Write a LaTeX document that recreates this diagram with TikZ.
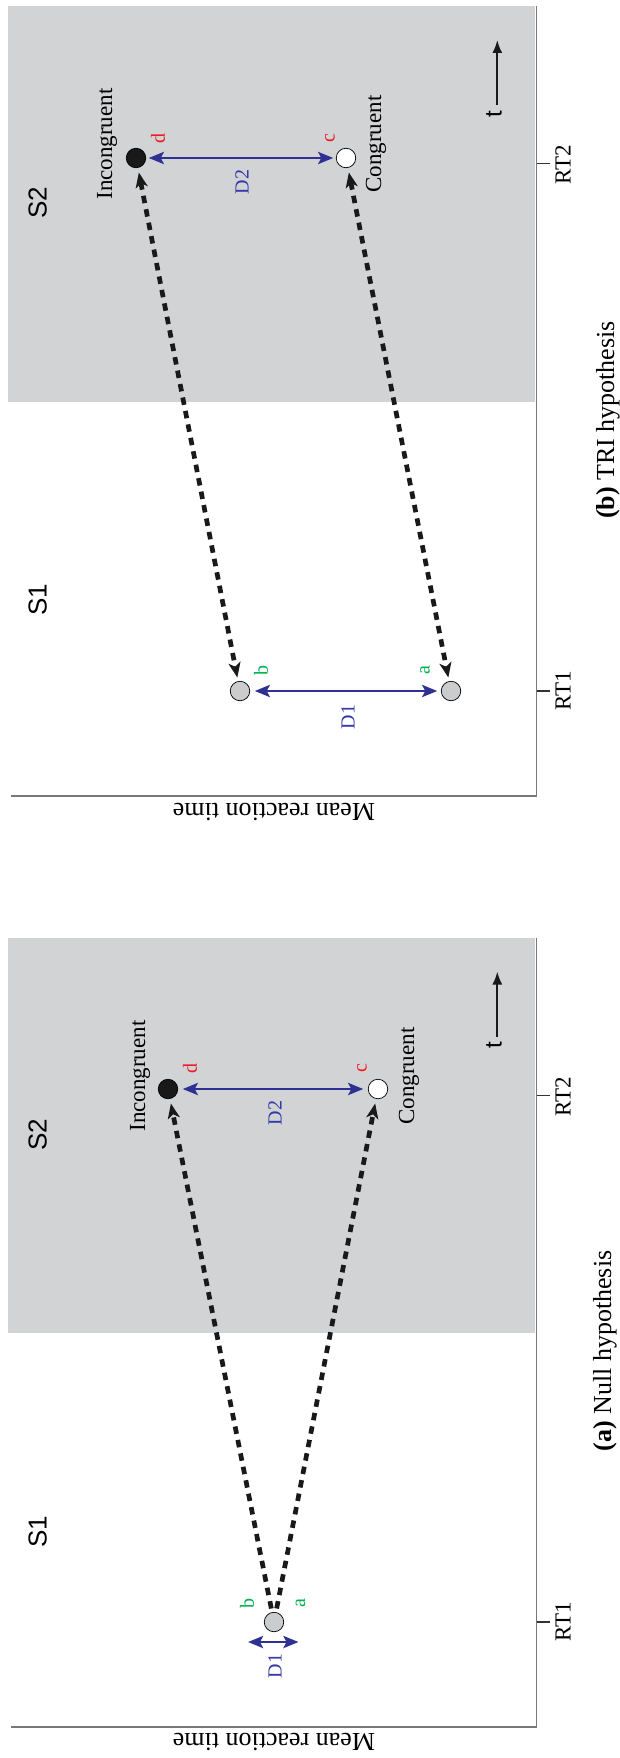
\documentclass[tikz,border=0pt]{standalone}
\usepackage{fontspec}
\setmainfont{Liberation Serif}
\newfontfamily\sansfam{Liberation Sans}
\usetikzlibrary{arrows.meta}
\definecolor{panelgray}{HTML}{D1D3D4}
\definecolor{axisgray}{HTML}{77787B}
\definecolor{darkblue}{HTML}{2E3192}
\definecolor{lblblue}{HTML}{3438A8}
\definecolor{lblred}{HTML}{ED1C24}
\definecolor{lblgreen}{HTML}{00B050}
\definecolor{dotgray}{HTML}{CBCCCE}
\newcommand\pal[1]{\fontsize{#1}{#1}\selectfont}
\newcommand\sansf[1]{\sansfam\fontsize{#1}{#1}\selectfont}
\begin{document}
\begin{tikzpicture}[x=1pt,y=-1pt,
  every node/.style={inner sep=0pt,outer sep=0pt},
  rtdot/.style={circle,draw=black,line width=0.7pt,minimum size=19.5pt,inner sep=0pt},
  darkdot/.style={rtdot,fill=black!90},
  whitedot/.style={rtdot,fill=white},
  graydot/.style={rtdot,fill=dotgray},
  bluearrow/.style={draw=darkblue,line width=2.8pt,{Stealth[length=15pt,width=12pt,inset=3pt]}-{Stealth[length=15pt,width=12pt,inset=3pt]}},
  dashline/.style={draw=black!90,line width=4.7pt,dash pattern=on 7.5pt off 6.2pt},
  bothtips/.style={{Stealth[length=15pt,width=12pt,inset=4pt]}-{Stealth[length=15pt,width=12pt,inset=4pt]}},
  onetip/.style={-{Stealth[length=15pt,width=12pt,inset=4pt]}},
  axisline/.style={draw=axisgray,line width=1.8pt},
  tickline/.style={draw=black!80,line width=1.2pt},
  tarrow/.style={draw=black!90,line width=2pt,-{Latex[length=13pt,width=10pt]}},
  vtext/.style={rotate=90},
  stxt/.style={vtext,font=\sansf{26}},
  ttxt/.style={vtext,font=\sansf{24}},
  cond/.style={vtext,font=\pal{23}},
  redl/.style={vtext,font=\pal{20},text=lblred},
  greenl/.style={vtext,font=\pal{20},text=lblgreen},
  bluel/.style={vtext,font=\pal{20},text=lblblue},
  rtl/.style={vtext,font=\pal{23}},
  capt/.style={vtext,font=\pal{26}},
  ylab/.style={rotate=180,font=\pal{26}}
]
\useasboundingbox (0,0) rectangle (620,1758);

% ================= panel (b): TRI hypothesis (top) =================
\fill[panelgray] (7.5,6) rectangle (535,402);
\coordinate (bTop) at (536.5,6);
\coordinate (bO) at (536.5,796);
\coordinate (bLeft) at (11,796);
\draw[axisline] (bTop) -- (bO) -- (bLeft);
\coordinate (bT2a) at (536.5,163.5); \coordinate (bT2b) at (550,163.5);
\coordinate (bT1a) at (536.5,691);   \coordinate (bT1b) at (550,691);
\draw[tickline] (bT2a) -- (bT2b);
\draw[tickline] (bT1a) -- (bT1b);

\node[stxt] (bS2) at (37.6,203) {S2};
\node[stxt] (bS1) at (37.6,600) {S1};

\node[darkdot]  (bd) at (136,158) {};
\node[whitedot] (bc) at (346,158) {};
\node[graydot]  (bb) at (240,691) {};
\node[graydot]  (ba) at (451,691) {};

\draw[bluearrow,shorten <=3pt,shorten >=3pt] (bd) -- (bc);
\draw[bluearrow,shorten <=5pt,shorten >=4pt] (bb) -- (ba);
\draw[dashline,bothtips,shorten <=5pt,shorten >=4pt] (bd) -- (bb);
\draw[dashline,bothtips,shorten <=5pt,shorten >=4pt] (bc) -- (ba);

\node[cond] (bInc) at (107,144) {Incongruent};
\node[cond] (bCon) at (376,144) {Congruent};
\node[redl] (bdl) at (158,138) {d};
\node[redl] (bcl) at (330,138) {c};
\node[bluel] (bD2) at (242,182) {D2};
\node[greenl] (bbl) at (261,670) {b};
\node[greenl] (bal) at (425,670) {a};
\node[bluel] (bD1) at (348,717) {D1};

\coordinate (btS) at (497.3,105); \coordinate (btE) at (497.3,40);
\draw[tarrow] (btS) -- (btE);
\node[ttxt] (bt) at (494,114) {t};

\node[rtl] (bRT2) at (563,165) {RT2};
\node[rtl] (bRT1) at (563,691) {RT1};
\node[ylab] (bY) at (274,812) {Mean reaction time};
\node[capt] (bCap) at (608,420) {\textbf{(b)} TRI hypothesis};

% ================= panel (a): Null hypothesis (bottom) =================
\fill[panelgray] (7.5,937.5) rectangle (535,1333);
\coordinate (aTop) at (536.5,937.5);
\coordinate (aO) at (536.5,1727);
\coordinate (aLeft) at (11,1727);
\draw[axisline] (aTop) -- (aO) -- (aLeft);
\coordinate (aT2a) at (536.5,1095.5); \coordinate (aT2b) at (550,1095.5);
\coordinate (aT1a) at (536.5,1622);   \coordinate (aT1b) at (550,1622);
\draw[tickline] (aT2a) -- (aT2b);
\draw[tickline] (aT1a) -- (aT1b);

\node[stxt] (aS2) at (37.6,1134.5) {S2};
\node[stxt] (aS1) at (37.6,1531.5) {S1};

\node[darkdot]  (ad) at (168,1089) {};
\node[whitedot] (ac) at (378,1089) {};
\node[graydot]  (ag) at (274,1622) {};

\draw[bluearrow,shorten <=5pt,shorten >=5pt] (ad) -- (ac);
\coordinate (aD1l) at (248,1642); \coordinate (aD1r) at (298.5,1642);
\draw[bluearrow] (aD1l) -- (aD1r);
\draw[dashline,onetip,shorten <=4pt,shorten >=5pt] (ag) -- (ad);
\draw[dashline,onetip,shorten <=4pt,shorten >=5pt] (ag) -- (ac);

\node[cond] (aInc) at (140,1076) {Incongruent};
\node[cond] (aCon) at (409,1076) {Congruent};
\node[redl] (adl) at (190,1068) {d};
\node[redl] (acl) at (362,1068) {c};
\node[bluel] (aD2) at (275,1113) {D2};
\node[greenl] (abl) at (247,1603) {b};
\node[greenl] (aal) at (300.5,1603) {a};
\node[bluel] (aD1) at (275,1666) {D1};

\coordinate (atS) at (497.3,1036.5); \coordinate (atE) at (497.3,971.5);
\draw[tarrow] (atS) -- (atE);
\node[ttxt] (at) at (494,1045.5) {t};

\node[rtl] (aRT2) at (563,1096.5) {RT2};
\node[rtl] (aRT1) at (563,1622) {RT1};
\node[ylab] (aY) at (274,1742) {Mean reaction time};
\node[capt] (aCap) at (605,1351) {\textbf{(a)} Null hypothesis};
\end{tikzpicture}
\end{document}
